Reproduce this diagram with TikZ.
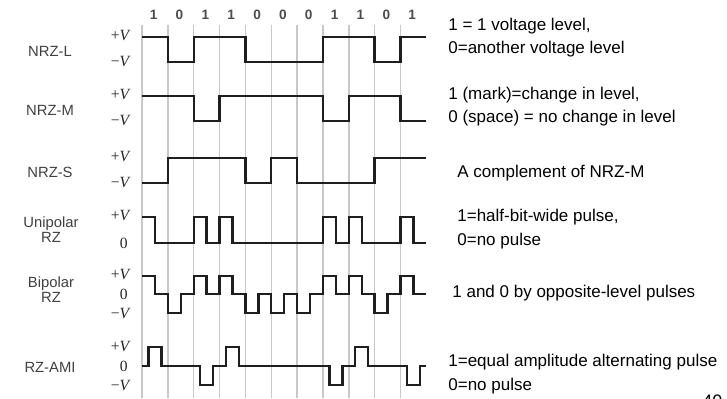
\documentclass[tikz,border=0pt]{standalone}
\usepackage{fontspec}
\setmainfont{Liberation Sans}
\newfontfamily\lvlfont{Liberation Serif}
\definecolor{sigtext}{RGB}{64,64,64}
\definecolor{gridgray}{RGB}{200,200,200}
\definecolor{wavecol}{RGB}{30,30,30}
\newcommand{\pV}{+\textit{V}}
\newcommand{\mV}{−\textit{V}}
\tikzset{
  wave/.style={line width=1.2pt, draw=wavecol, line join=miter},
  gridln/.style={draw=gridgray, line width=0.7pt},
  signame/.style={align=center, inner sep=0pt, font=\fontsize{7.4}{7.6}\selectfont, text=sigtext},
  lvl/.style={anchor=east, inner sep=0pt, font=\lvlfont\fontsize{7.8}{9}\selectfont, text=black!85},
  bitlbl/.style={inner sep=0pt, font=\fontsize{6.8}{8}\selectfont\bfseries, text=black!70},
  desc/.style={anchor=west, align=left, inner sep=0pt, font=\fontsize{8.5}{11.8}\selectfont},
}

\begin{document}
\begin{tikzpicture}[x=0.5pt,y=-0.5pt]
\useasboundingbox (0,0) rectangle (727,398);
\clip (0,0) rectangle (727,398);

% ================= signal names =================
\node[signame] (nrzl)  at (50,51)  {NRZ-L};
\node[signame] (nrzm)  at (50,110) {NRZ-M};
\node[signame] (nrzs)  at (50,172) {NRZ-S};
\node[signame] (unirz) at (51,230) {Unipolar\\RZ};
\node[signame] (birz)  at (51,290) {Bipolar\\RZ};
\node[signame] (ami)   at (50,367) {RZ-AMI};

% ================= level marks =================
\foreach \y/\t [count=\i] in {36/\pV, 62/\mV, 95/\pV, 121/\mV, 157/\pV, 183/\mV,
                              216/\pV, 275/\pV, 313/\mV, 346/\pV, 385/\mV}
  {\node[lvl] (lv\i) at (131,\y) {\t};}
\foreach \y [count=\i] in {243,294,366} {\node[lvl] (zero\i) at (128,\y) {0};}

% ================= bit cells and waveforms (x in bit widths) =================
\begin{scope}[shift={(142,0)}, x=12.925pt]
  \foreach \k in {0,...,10} {\draw[gridln] (\k,25) -- (\k,398);}
  \foreach \b [count=\k from 0] in {1,0,1,1,0,0,0,1,1,0,1}
    {\node[bitlbl] (bit\k) at (\k+.45,15) {\b};}

  % NRZ-L
  \draw[wave] (0,37) -| (1,62) -| (2,37) -| (4,62) -| (7,37) -| (9,62) -| (10,37) -- (11,37);
  % NRZ-M
  \draw[wave] (0,96) -| (2,121) -| (3,96) -| (7,121) -| (8,96) -| (10,121) -- (11,121);
  % NRZ-S
  \draw[wave] (0,183) -| (1,158) -| (4,183) -| (5,158) -| (6,183) -| (9,158) -- (11,158);
  % unipolar RZ
  \draw[wave] (0,217) foreach \lv [count=\k from 0] in {217,243,217,217,243,243,243,217,217,243,217}
    { -- (\k,\lv) -- (\k+.5,\lv) -- (\k+.5,243) -- (\k+1,243) };
  % bipolar RZ
  \draw[wave] (0,276) foreach \lv [count=\k from 0] in {276,313,276,276,313,313,313,276,276,313,276}
    { -- (\k,\lv) -- (\k+.5,\lv) -- (\k+.5,294) -- (\k+1,294) };
  % RZ-AMI
  \draw[wave] (0,366) foreach \lv [count=\k from 0] in {347,366,385,347,366,366,366,385,347,366,385}
    { -- (\k+.25,366) -- (\k+.25,\lv) -- (\k+.75,\lv) -- (\k+.75,366) -- (\k+1,366) };
\end{scope}

% ================= descriptions =================
\node[desc] (d1) at (448,37.5)  {1 = 1 voltage level,\\0=another voltage level};
\node[desc] (d2) at (448,106.5) {1 (mark)=change in level,\\0 (space) = no change in level};
\node[desc] (d3) at (457,173)   {A complement of NRZ-M};
\node[desc] (d4) at (457,229)   {1=half-bit-wide pulse,\\0=no pulse};
\node[desc] (d5) at (452,293)   {1 and 0 by opposite-level pulses};
\node[desc] (d6) at (448,374)   {1=equal amplitude alternating pulse\\0=no pulse};

% page number, cut by the lower edge
\node[anchor=north west, inner sep=0pt, font=\fontsize{9}{10}\selectfont] (pg) at (702,395) {40};

\end{tikzpicture}
\end{document}
